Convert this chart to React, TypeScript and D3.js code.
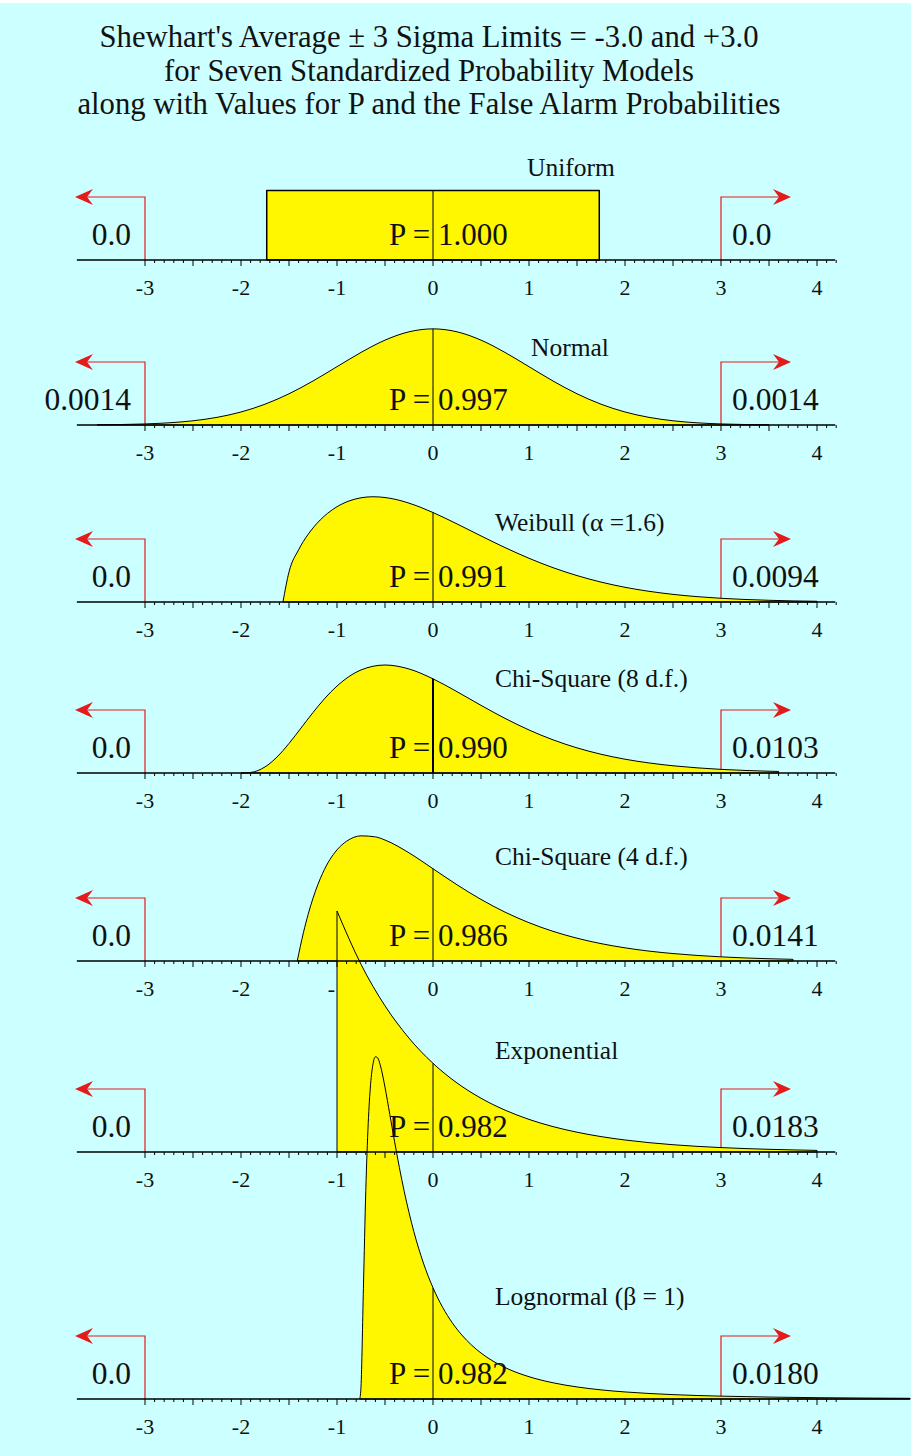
import React from 'react';
import * as d3 from 'd3';

// ---------- data ----------
const titleLines = [
  "Shewhart's Average ± 3 Sigma Limits = -3.0 and +3.0",
  'for Seven Standardized Probability Models',
  'along with Values for P and the False Alarm Probabilities',
];
const modelNames = [
  'Uniform',
  'Normal',
  'Weibull (α =1.6)',
  'Chi-Square (8 d.f.)',
  'Chi-Square (4 d.f.)',
  'Exponential',
  'Lognormal (β = 1)',
];
const pValues = ['1.000', '0.997', '0.991', '0.990', '0.986', '0.982', '0.982'];
const leftTail = ['0.0', '0.0014', '0.0', '0.0', '0.0', '0.0', '0.0'];
const rightTail = ['0.0', '0.0014', '0.0094', '0.0103', '0.0141', '0.0183', '0.0180'];
const tickLabels = [-3, -2, -1, 0, 1, 2, 3, 4];
const sigmaLimits = [-3, 3];

// standardized density curves: [z, density]
const uniformCurve: [number, number][] = [
  [-1.732, 0.2887], [0, 0.2887], [1.732, 0.2887],
];
const normalCurve: [number, number][] = [
  [-3.5, 0.0009], [-3.25, 0.002], [-3, 0.0044], [-2.75, 0.0091], [-2.5, 0.0175],
  [-2.25, 0.0317], [-2, 0.054], [-1.75, 0.0863], [-1.5, 0.1295], [-1.25, 0.1826],
  [-1, 0.242], [-0.75, 0.3011], [-0.5, 0.3521], [-0.25, 0.3867], [0, 0.3989],
  [0.25, 0.3867], [0.5, 0.3521], [0.75, 0.3011], [1, 0.242], [1.25, 0.1826],
  [1.5, 0.1295], [1.75, 0.0863], [2, 0.054], [2.25, 0.0317], [2.5, 0.0175],
  [2.75, 0.0091], [3, 0.0044], [3.25, 0.002], [3.5, 0.0009],
];
const weibullCurve: [number, number][] = [
  [-1.563, 0], [-1.5, 0.1245], [-1.4, 0.2166], [-1.3, 0.2811], [-1.25, 0.3072],
  [-1.1, 0.3674], [-1, 0.3954], [-0.875, 0.4192], [-0.75, 0.4324], [-0.625, 0.4367],
  [-0.5, 0.4336], [-0.375, 0.4244], [-0.25, 0.4102], [-0.125, 0.3922], [0, 0.3712],
  [0.25, 0.324], [0.5, 0.2742], [0.75, 0.2258], [1, 0.1814], [1.25, 0.1424],
  [1.5, 0.1096], [1.75, 0.0826], [2, 0.061], [2.25, 0.0444], [2.5, 0.0317],
  [2.75, 0.0223], [3, 0.0154], [3.25, 0.0105], [3.5, 0.0071], [3.75, 0.0046], [4, 0.003],
];
const chi8Curve: [number, number][] = [
  [-2, 0], [-1.9, 0.0022], [-1.75, 0.0253], [-1.625, 0.0664], [-1.5, 0.1226],
  [-1.375, 0.1865], [-1.25, 0.251], [-1.125, 0.3105], [-1, 0.3609], [-0.75, 0.4275],
  [-0.5, 0.4481], [-0.25, 0.4316], [0, 0.3907], [0.25, 0.3374], [0.5, 0.2807],
  [0.75, 0.2267], [1, 0.1785], [1.25, 0.1376], [1.5, 0.1043], [1.75, 0.0778],
  [2, 0.0573], [2.25, 0.0417], [2.5, 0.03], [2.75, 0.0214], [3, 0.0151],
  [3.25, 0.0106], [3.5, 0.0074], [3.6, 0.0064],
];
const chi4Curve: [number, number][] = [
  [-1.414, 0], [-1.35, 0.1173], [-1.3, 0.1944], [-1.25, 0.2604], [-1.15, 0.3638],
  [-1, 0.4612], [-0.9, 0.497], [-0.75, 0.5193], [-0.6, 0.515], [-0.5, 0.5019],
  [-0.25, 0.4488], [0, 0.3828], [0.25, 0.3163], [0.5, 0.2555], [0.75, 0.2028],
  [1, 0.1589], [1.25, 0.1231], [1.5, 0.0946], [1.75, 0.0721], [2, 0.0546],
  [2.25, 0.0411], [2.5, 0.0309], [2.75, 0.0231], [3, 0.0172], [3.25, 0.0127],
  [3.5, 0.0094], [3.75, 0.0069],
];
const exponentialCurve: [number, number][] = [
  [-1, 1.0], [-0.75, 0.7788], [-0.5, 0.6065], [-0.25, 0.4724], [0, 0.3679],
  [0.25, 0.2865], [0.5, 0.2231], [0.75, 0.1738], [1, 0.1353], [1.25, 0.1054],
  [1.5, 0.0821], [1.75, 0.0639], [2, 0.0498], [2.25, 0.0388], [2.5, 0.0302],
  [2.75, 0.0235], [3, 0.0183], [3.25, 0.0143], [3.5, 0.0111], [3.75, 0.0087], [4, 0.0067],
];
const lognormalCurve: [number, number][] = [
  [-0.763, 0], [-0.75, 0.0506], [-0.725, 0.459], [-0.7, 0.8654], [-0.675, 1.1424],
  [-0.65, 1.3062], [-0.625, 1.3901], [-0.6, 1.4202], [-0.575, 1.4146], [-0.55, 1.3865],
  [-0.5, 1.2935], [-0.45, 1.1811], [-0.4, 1.0675], [-0.35, 0.96], [-0.3, 0.8619],
  [-0.25, 0.7738], [-0.2, 0.6953], [-0.1, 0.5642], [0, 0.4615], [0.1, 0.3807],
  [0.2, 0.3168], [0.3, 0.2656], [0.4, 0.2244], [0.5, 0.1908], [0.75, 0.1307],
  [1, 0.0925], [1.25, 0.0673], [1.5, 0.05], [1.75, 0.0379], [2, 0.0293],
  [2.5, 0.0181], [3, 0.0118], [3.5, 0.008], [4, 0.0055], [4.5, 0.0039], [4.97, 0.0029],
];
const curves = [uniformCurve, normalCurve, weibullCurve, chi8Curve, chi4Curve, exponentialCurve, lognormalCurve];
const axisMax = [4.19, 4.19, 4.19, 4.19, 4.19, 4.19, 4.97];

// ---------- layout ----------
const W = 911;
const H = 1456;
const baselines = [260, 425, 602, 773, 961, 1152, 1399];
const nameX = [527, 531, 495, 495, 495, 495, 495];
const nameRise = [84, 69, 71, 86, 96, 93, 94];
const zeroLineWidth = [1, 1, 1, 2, 1, 1, 1];
const FONT = "'Liberation Serif', 'Times New Roman', serif";
const BG = '#ccffff';
const FILL = '#fff700';
const RED = '#e41b1b';

export default function App() {
  const x = d3.scaleLinear().domain([0, 4]).range([433, 817]);
  const densityPx = 241;
  const ticks = d3.range(-30, 43).map((i) => ({ v: i / 10, big: i % 5 === 0 }));

  const panels = curves.map((curve, i) => {
    const base = baselines[i];
    const y = d3.scaleLinear().domain([0, 1]).range([base, base - densityPx]);
    const area = d3
      .area<[number, number]>()
      .x((d) => x(d[0]))
      .y0(base)
      .y1((d) => y(d[1]))
      .curve(i === 0 ? d3.curveLinear : d3.curveMonotoneX);
    const zeroPt = curve.find((d) => d[0] === 0)!;
    return { i, base, y, path: area(curve) || '', zeroTop: y(zeroPt[1]) };
  });

  const arrow = (base: number, side: number) => {
    const xs = x(sigmaLimits[side === -1 ? 0 : 1]);
    const ya = base - 63;
    const tip = xs + side * 70;
    const line = `M${xs},${base} L${xs},${ya} L${tip - side * 10},${ya}`;
    const head = `M${tip},${ya} L${tip - side * 18},${ya - 8} L${tip - side * 12},${ya} L${tip - side * 18},${ya + 8} Z`;
    return (
      <g>
        <path d={line} fill="none" stroke={RED} strokeWidth={1.2} />
        <path d={head} fill={RED} stroke="none" />
      </g>
    );
  };

  return (
    <svg
      width={W}
      height={H}
      viewBox={`0 0 ${W} ${H}`}
      style={{ position: 'absolute', left: 0, top: 0, display: 'block' }}
      fontFamily={FONT}
    >
      <rect x={0} y={0} width={W} height={H} fill="#ffffff" />
      <rect x={0} y={3} width={W} height={H - 3} fill={BG} />

      {titleLines.map((t, k) => (
        <text key={k} x={429} y={47 + k * 33.5} textAnchor="middle" fontSize={30.7} fill="#111">
          {t}
        </text>
      ))}

      {/* layer 1: labels, arrows, fills */}
      {panels.map(({ i, base, path, zeroTop }) => (
        <g key={`p${i}`}>
          {tickLabels.map((t) => (
            <text key={t} x={x(t)} y={base + 35} textAnchor="middle" fontSize={22} fill="#111">
              {t}
            </text>
          ))}
          {arrow(base, -1)}
          {arrow(base, 1)}
          <text x={x(-3) - 14} y={base - 15} textAnchor="end" fontSize={31.5} fill="#111">
            {leftTail[i]}
          </text>
          <text x={x(3) + 11} y={base - 15} textAnchor="start" fontSize={31.5} fill="#111">
            {rightTail[i]}
          </text>
          <text x={nameX[i]} y={base - nameRise[i]} fontSize={25.5} fill="#111">
            {modelNames[i]}
          </text>
          <path d={path} fill={FILL} stroke="#000" strokeWidth={i === 0 ? 1.5 : 1} strokeLinejoin="round" />
          <line x1={x(0)} x2={x(0)} y1={base} y2={zeroTop} stroke="#000" strokeWidth={zeroLineWidth[i]} />
        </g>
      ))}

      {/* layer 2: axes and ticks */}
      {panels.map(({ i, base }) => (
        <g key={`a${i}`}>
          <line x1={x(-3.71)} x2={x(axisMax[i])} y1={base} y2={base} stroke="#000" strokeWidth={1.5} />
          {ticks.map((t, k) => (
            <line
              key={k}
              x1={x(t.v)}
              x2={x(t.v)}
              y1={base}
              y2={base + (t.big ? 6 : 3)}
              stroke="#000"
              strokeWidth={1}
            />
          ))}
        </g>
      ))}

      {/* layer 3: P values */}
      {panels.map(({ i, base }) => (
        <text key={`v${i}`} x={389} y={base - 15} fontSize={31} fill="#111">
          {`P = ${pValues[i]}`}
        </text>
      ))}
    </svg>
  );
}
